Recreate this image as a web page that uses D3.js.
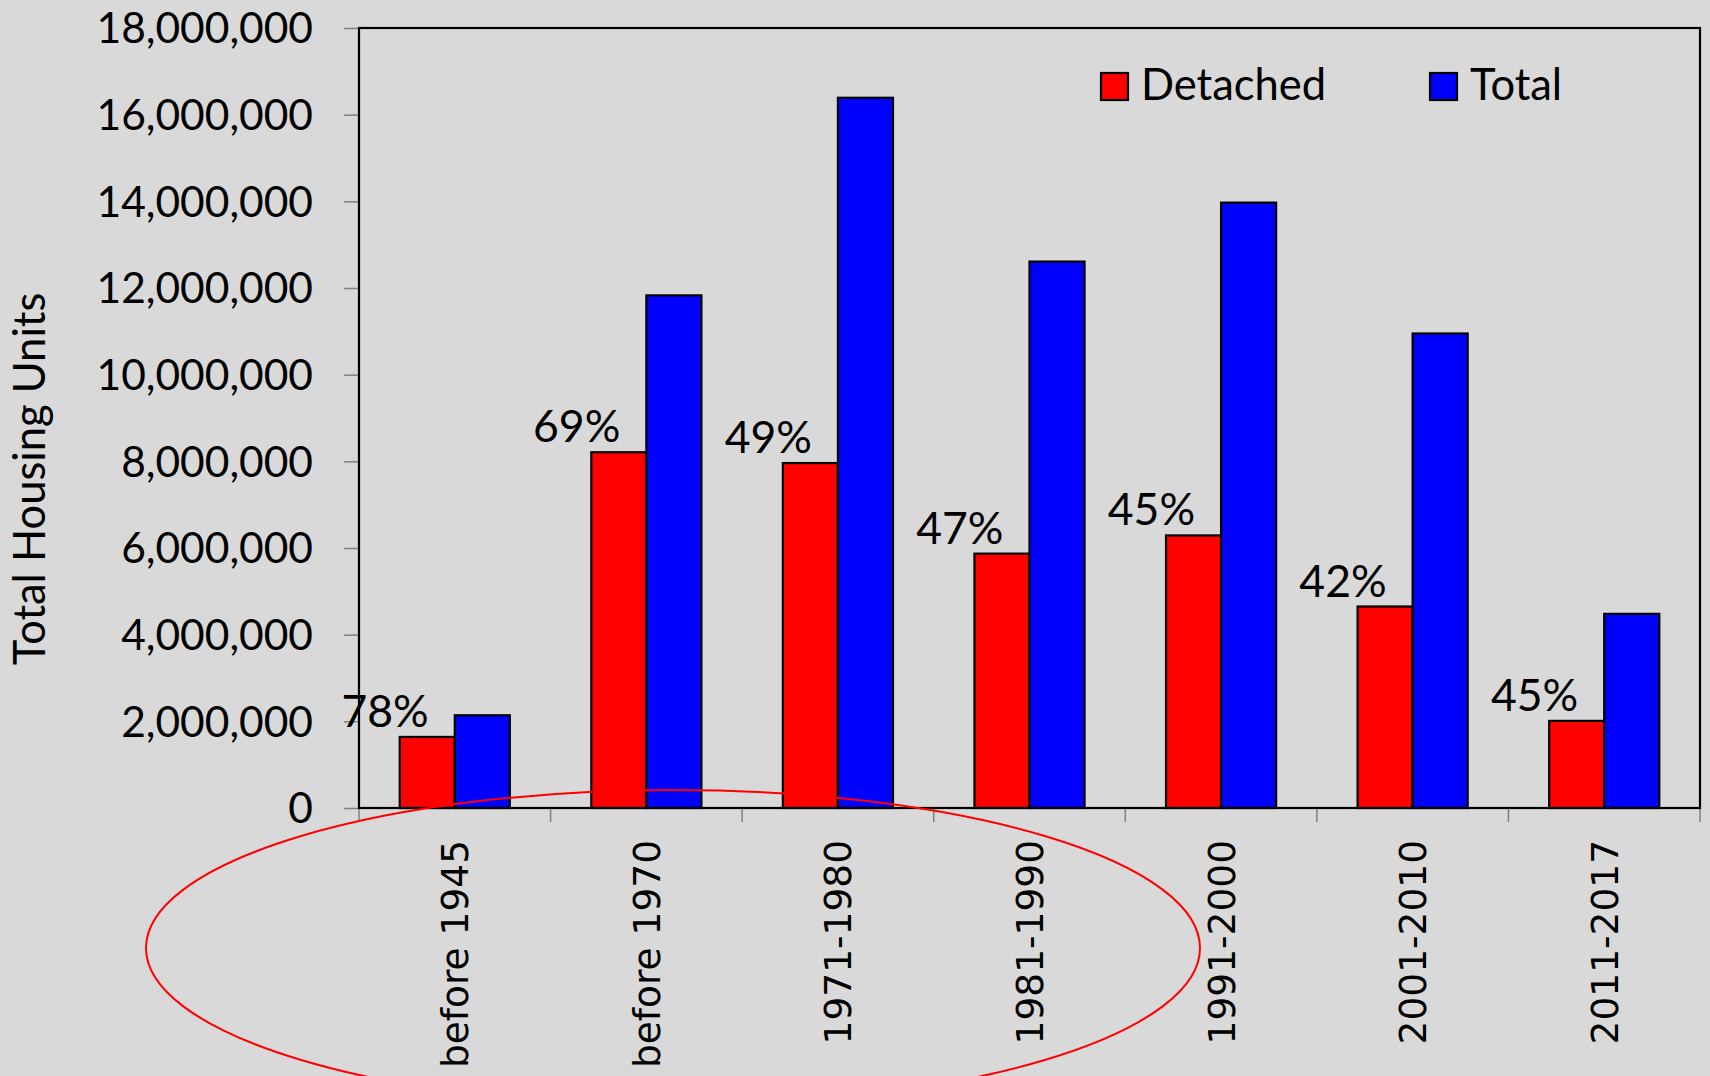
<!DOCTYPE html>
<html>
<head>
<meta charset="utf-8">
<script src="https://cdn.jsdelivr.net/npm/d3@7"></script>
<style>
  html, body { margin: 0; padding: 0; background: #d9d9d9; overflow: hidden; }
  svg { display: block; }
</style>
</head>
<body>
<svg id="chart" width="1710" height="1076"></svg>
<script>
// ---- data ----
const categories = ["before 1945", "before 1970", "1971-1980", "1981-1990", "1991-2000", "2001-2010", "2011-2017"];
const seriesNames = ["Detached", "Total"];
const detached = [1640000, 8210000, 7960000, 5870000, 6290000, 4650000, 2010000];
const total = [2140000, 11830000, 16390000, 12610000, 13970000, 10950000, 4480000];
const pctLabels = ["78%", "69%", "49%", "47%", "45%", "42%", "45%"];
const yTicks = [0, 2000000, 4000000, 6000000, 8000000, 10000000, 12000000, 14000000, 16000000, 18000000];
const yTitle = "Total Housing Units";
const colors = ["#ff0000", "#0000ff"];

// ---- layout ----
const W = 1710, H = 1076;
const plot = { left: 359, top: 28, right: 1700, bottom: 808 };
const uiFont = "Lato, 'Open Sans', sans-serif";
const svg = d3.select("#chart");

svg.append("rect").attr("width", W).attr("height", H).attr("fill", "#d9d9d9");

const x = d3.scaleBand().domain(categories).range([plot.left, plot.right]).padding(0);
const xs = d3.scaleBand().domain(seriesNames).range([0, x.bandwidth()]).paddingInner(0).paddingOuter(0.74);
const y = d3.scaleLinear().domain([0, 18000000]).range([plot.bottom, plot.top]);
const color = d3.scaleOrdinal().domain(seriesNames).range(colors);

// y axis
const yAxis = d3.axisLeft(y).tickValues(yTicks).tickFormat(d3.format(",")).tickSize(15).tickPadding(31);
const gy = svg.append("g").attr("transform", `translate(${plot.left},0)`).call(yAxis);
gy.select(".domain").remove();
gy.selectAll(".tick line").attr("stroke", "#808080").attr("stroke-width", 1.5);
gy.selectAll(".tick text").attr("font-family", uiFont).attr("font-size", 42.5).attr("fill", "#000").attr("dy", "0.35em");

// x axis ticks (at band boundaries)
const boundaries = categories.map(c => x(c)).concat([plot.right]);
svg.append("g").selectAll("line").data(boundaries).join("line")
  .attr("x1", d => d).attr("x2", d => d)
  .attr("y1", plot.bottom).attr("y2", plot.bottom + 14)
  .attr("stroke", "#808080").attr("stroke-width", 1.5);

// x labels
svg.append("g").selectAll("text").data(categories).join("text")
  .attr("transform", d => `translate(${x(d) + x.bandwidth() / 2},${plot.bottom + 32}) rotate(-90)`)
  .attr("text-anchor", "end").attr("dy", "0.36em")
  .attr("font-family", "'DejaVu Sans', sans-serif").attr("font-size", 37.5).attr("fill", "#000")
  .text(d => d);

// bars
const rows = categories.map((c, i) => ({ cat: c, values: [detached[i], total[i]] }));
const groups = svg.append("g").selectAll("g").data(rows).join("g")
  .attr("transform", d => `translate(${x(d.cat)},0)`);
groups.selectAll("rect").data(d => seriesNames.map((s, j) => ({ s, v: d.values[j] }))).join("rect")
  .attr("x", d => xs(d.s)).attr("width", xs.bandwidth())
  .attr("y", d => y(d.v)).attr("height", d => plot.bottom - y(d.v))
  .attr("fill", d => color(d.s)).attr("stroke", "#000").attr("stroke-width", 2.2);

// percentage labels
svg.append("g").selectAll("text").data(rows).join("text")
  .attr("x", (d) => x(d.cat) + xs("Detached") + xs.bandwidth() - 26)
  .attr("y", d => y(d.values[0]) - 10)
  .attr("text-anchor", "end")
  .attr("font-family", uiFont).attr("font-size", 44.5).attr("fill", "#000")
  .text((d, i) => pctLabels[i]);

// plot border (left, top, right, bottom)
svg.append("rect").attr("x", plot.left).attr("y", plot.top)
  .attr("width", plot.right - plot.left).attr("height", plot.bottom - plot.top)
  .attr("fill", "none").attr("stroke", "#000").attr("stroke-width", 2.2);

// y title
svg.append("text")
  .attr("transform", `translate(30,479) rotate(-90)`)
  .attr("text-anchor", "middle").attr("dy", "0.35em")
  .attr("font-family", uiFont).attr("font-size", 43.5).attr("fill", "#000")
  .text(yTitle);

// legend
const legendX = [1101, 1430];
const leg = svg.append("g").selectAll("g").data(seriesNames).join("g")
  .attr("transform", (d, i) => `translate(${legendX[i]},73)`);
leg.append("rect").attr("width", 27).attr("height", 27)
  .attr("fill", d => color(d)).attr("stroke", "#000").attr("stroke-width", 2.2);
leg.append("text").attr("x", 40).attr("y", 27)
  .attr("font-family", uiFont).attr("font-size", 43.5).attr("fill", "#000")
  .text(d => d);

// annotation ellipse
svg.append("ellipse").attr("cx", 673).attr("cy", 948).attr("rx", 527).attr("ry", 158)
  .attr("fill", "none").attr("stroke", "#ff0000").attr("stroke-width", 2);
</script>
</body>
</html>
